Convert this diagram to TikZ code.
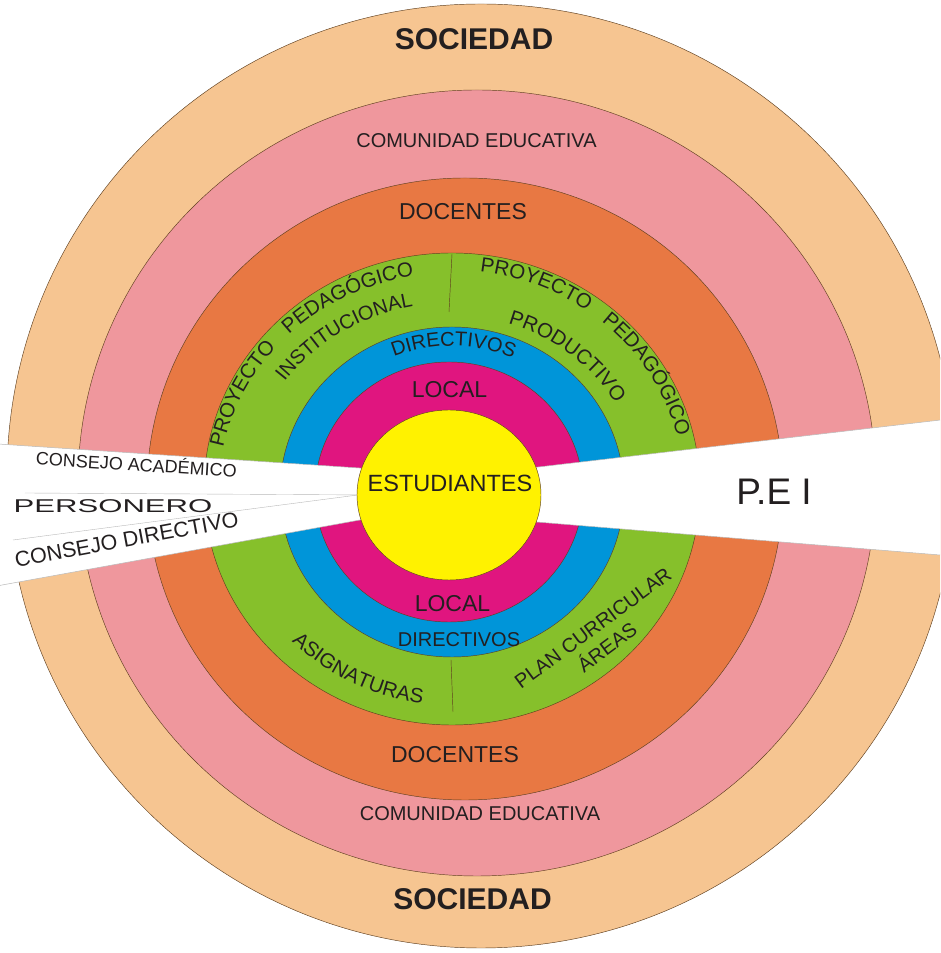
\documentclass[tikz,border=0pt]{standalone}
\usepackage{fontspec}
\setmainfont{Liberation Sans}
\usetikzlibrary{decorations.text}
\definecolor{peach}{HTML}{F6C591}
\definecolor{pink}{HTML}{EF979D}
\definecolor{orange}{HTML}{E87843}
\definecolor{green}{HTML}{86C02B}
\definecolor{blue}{HTML}{0095D9}
\definecolor{magenta}{HTML}{E0157F}
\definecolor{yellow}{HTML}{FFF200}
\definecolor{txt}{HTML}{231F20}
\colorlet{ringline}{black!50!brown}
\colorlet{wedgeline}{gray!55}
\newcommand\setsz[1]{\fontsize{#1}{#1}\selectfont}
\tikzset{
  ring/.style={draw=ringline, line width=0.45pt},
  wedge/.style={fill=white, draw=wedgeline, line width=0.5pt},
  lbl/.style={inner sep=0pt, text=txt, anchor=base},
  arc word/.style 2 args={decorate,
    decoration={text along path, text align=center,
      text={|\setsz{#2}\color{txt}|#1}}},
}

\begin{document}
\begin{tikzpicture}[x=1pt, y=1pt]
\useasboundingbox (0,0) rectangle (940,953);
\clip (0,0) rectangle (940,953);
\fill[white] (0,0) rectangle (940,953);
% rings, from the outside in
\foreach \col/\cx/\cy/\rx/\ry in {peach/481/477/474/472, pink/477/470/399/393,
  orange/465/464/318/311, green/452/464/248/236, blue/452/461/172/165,
  magenta/449/461/134/130} {
  \filldraw[ring, fill=\col] (\cx,\cy) ellipse [x radius=\rx, y radius=\ry];
}
\coordinate (gc) at (452,464);
\coordinate (bc) at (452,461);
% dividers of the green ring
\draw[ring] (452,699) -- (449,641);
\draw[ring] (451,293) -- (453,241);
% white bands
\filldraw[wedge] (500,481.5) -- (950,534.1) -- (950,397.2) -- (500,434) -- cycle;
\filldraw[wedge] (-5,509.2) -- (400,482.3) -- (400,440.3) -- (-5,366.7) -- cycle;
\draw[wedgeline] (25,460) -- (370,458);
\draw[wedgeline] (13,413) -- (370,459.6);
\filldraw[ring, fill=yellow] (449,458) ellipse [x radius=92, y radius=85];

% straight labels
\node[lbl, font=\bfseries] (soc1) at (474,903) {\setsz{30}SOCIEDAD};
\node[lbl] (com1) at (476.5,805) {\setsz{20}COMUNIDAD EDUCATIVA};
\node[lbl] (doc1) at (463,733) {\setsz{23}DOCENTES};
\node[lbl] (loc1) at (449.5,555) {\setsz{23}LOCAL};
\node[lbl] (est) at (450,461) {\setsz{23.5}ESTUDIANTES};
\node[lbl] (loc2) at (452.5,341) {\setsz{23}LOCAL};
\node[lbl] (dir2) at (459,306) {\setsz{20}DIRECTIVOS};
\node[lbl] (doc2) at (455,190) {\setsz{23}DOCENTES};
\node[lbl] (com2) at (480,132) {\setsz{20}COMUNIDAD EDUCATIVA};
\node[lbl, font=\bfseries] (soc2) at (472.5,43) {\setsz{30}SOCIEDAD};
\node[lbl] (pei) at (774,448) {\setsz{37}P.E I};
\node[lbl, rotate=-3.5] (acad) at (136,482) {\setsz{18}CONSEJO ACADÉMICO};
\node[lbl, xscale=1.68] (pers) at (113,440) {\setsz{18.5}PERSONERO};
\node[lbl, rotate=10.5] (cdir) at (128,406) {\setsz{21.5}CONSEJO DIRECTIVO};
\node[lbl, rotate=36.5] (plan) at (597,319.4) {\setsz{20}PLAN CURRICULAR};
\node[lbl, rotate=36.5] (areas) at (611.4,299.9) {\setsz{20}ÁREAS};

% labels on arcs
\path[arc word={PROYECTO}{20.5}] (gc) ++(189.5:233 and 216) arc [start angle=189.5, end angle=119.5, x radius=233, y radius=216];
\path[arc word={PEDAGÓGICO}{20.5}] (gc) ++(152.3:233 and 216) arc [start angle=152.3, end angle=82.3, x radius=233, y radius=216];
\path[arc word={INSTITUCIONAL}{20}] (gc) ++(158.3:205 and 186) arc [start angle=158.3, end angle=88.3, x radius=205, y radius=186];
\path[arc word={PROYECTO}{20.5}] (gc) ++(103.5:232 and 219) arc [start angle=103.5, end angle=33.5, x radius=232, y radius=219];
\path[arc word={PEDAGÓGICO}{20.5}] (gc) ++(66.5:232 and 219) arc [start angle=66.5, end angle=-3.5, x radius=232, y radius=219];
\path[arc word={PRODUCTIVO}{20.5}] (gc) ++(85.7:188 and 173) arc [start angle=85.7, end angle=15.7, x radius=188, y radius=173];
\path[arc word={DIRECTIVOS}{20}] (bc) ++(124.4:152 and 146) arc [start angle=124.4, end angle=54.4, x radius=152, y radius=146];
\path[arc word={ASIGNATURAS}{20.5}] (gc) ++(208.4:226 and 216) arc [start angle=208.4, end angle=278.4, x radius=226, y radius=216];
\end{tikzpicture}
\end{document}
